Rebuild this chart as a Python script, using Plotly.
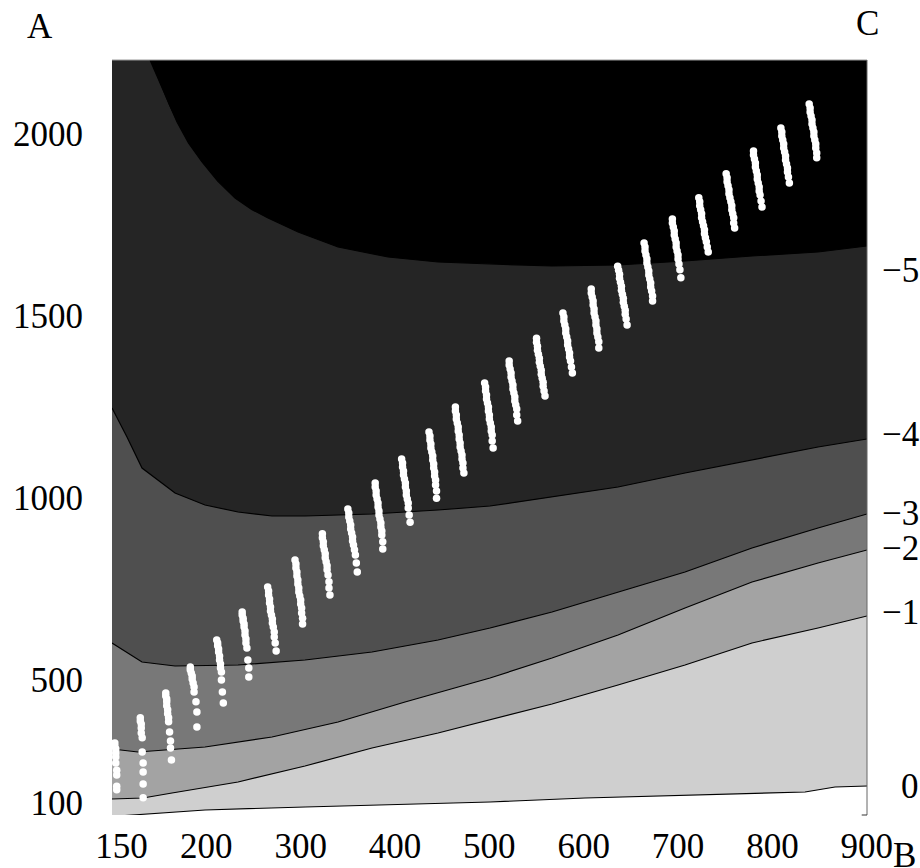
import plotly.graph_objects as go

# ---------------- axes ----------------
x_range = [100, 900.3]
y_range = [126.75, 2203]
x_tick_vals = [110, 200, 300, 400, 500, 600, 700, 800, 900]
x_tick_text = ["150", "200", "300", "400", "500", "600", "700", "800", "900"]
y_tick_vals = [160, 500, 1000, 1500, 2000]
y_tick_text = ["100", "500", "1000", "1500", "2000"]

# ---------------- contour lines ----------------
lev0_x = [113.8, 198.6, 304.6, 410.6, 500.7, 601.4, 707.4, 834.6, 866.4, 900.3]
lev0_y = [125.4, 140.5, 148.8, 157.0, 162.5, 173.5, 181.8, 190.0, 203.8, 206.5]

lev1_x = [100, 132.9, 163.6, 233.6, 304.6, 375.6, 445.6, 500.7, 566.4, 636.4, 707.4, 778.4, 848.4, 900.3]
lev1_y = [170.8, 173.5, 187.3, 217.5, 261.5, 311.0, 352.3, 388.0, 432.0, 484.3, 539.3, 599.8, 641.0, 674.0]

lev2_x = [100, 127.6, 198.6, 269.6, 339.6, 410.6, 500.7, 566.4, 636.4, 707.4, 778.4, 848.4, 900.3]
lev2_y = [308.3, 300.0, 313.8, 341.3, 382.5, 437.5, 503.5, 558.5, 621.8, 696.0, 767.5, 819.8, 855.5]

lev3_x = [100, 131.8, 166.8, 233.6, 304.6, 375.6, 445.6, 500.7, 566.4, 636.4, 707.4, 778.4, 848.4, 900.3]
lev3_y = [599.8, 547.5, 536.5, 539.3, 553.0, 575.0, 608.0, 641.0, 685.0, 740.0, 795.0, 861.0, 916.0, 954.5]

lev4_x = [100, 115.9, 131.8, 166.8, 198.6, 233.6, 269.6, 304.6, 375.6, 445.6, 500.7, 566.4, 636.4, 707.4, 778.4, 848.4, 900.3]
lev4_y = [1246, 1166.3, 1081, 1012.3, 979.3, 960, 949, 949, 954.5, 965.5, 976.5, 1001.3, 1028.8, 1067.3, 1103, 1138.8, 1160.8]

lev5_x = [140.3, 147.0, 153.0, 160.5, 168.9, 181.0, 195.4, 212.0, 230.4, 248.0, 265.4, 297.2, 339.6, 392.6, 445.6, 500.7, 566.4, 636.4, 707.4, 778.4, 848.4, 900.3]
lev5_y = [2203, 2163, 2126, 2078, 2032.5, 1975, 1922.5, 1870, 1823.5, 1792, 1768.5, 1730, 1688.8, 1661.3, 1647.5, 1642, 1636.5, 1639.3, 1650.3, 1664, 1675, 1691.5]

levels = ["0", "\u22121", "\u22122", "\u22123", "\u22124", "\u22125"]
level_label_y = [204, 685, 861, 957, 1172, 1625]
band_colors = ["#cfcfcf", "#a3a3a3", "#787878", "#4f4f4f", "#252525", "#000000"]

# ---------------- white point columns ----------------
dots_x = [
    [103, 103, 104, 104, 104, 104, 105, 105, 105, 105],
    [130, 130, 131, 131, 131, 132, 132, 133, 133, 133, 133],
    [157, 157, 158, 158, 158, 159, 159, 160, 160, 161, 162, 162, 163],
    [183, 183, 184, 185, 185, 186, 187, 187, 189, 190, 190],
    [211, 212, 212, 213, 213, 214, 214, 215, 215, 216, 216, 217, 218],
    [238, 238, 239, 239, 240, 240, 241, 241, 242, 242, 243, 244, 245, 245],
    [265, 266, 266, 267, 267, 268, 268, 269, 270, 270, 271, 272, 272, 273, 274],
    [294, 295, 295, 296, 296, 297, 297, 298, 298, 299, 300, 300, 301, 301, 302, 302],
    [323, 323, 324, 324, 325, 326, 326, 327, 328, 328, 329, 330, 330, 331],
    [350, 351, 351, 352, 353, 353, 354, 355, 355, 356, 357, 358, 359, 360],
    [379, 379, 380, 380, 381, 382, 382, 383, 383, 384, 385, 385, 386, 386, 387, 387],
    [407, 408, 408, 409, 409, 410, 411, 411, 412, 412, 413, 414, 414, 415, 416],
    [436, 437, 437, 438, 438, 439, 440, 440, 441, 441, 442, 442, 443, 443, 444, 444],
    [464, 464, 465, 465, 466, 467, 467, 468, 468, 469, 469, 470, 471, 471, 472, 472, 473],
    [495, 496, 496, 497, 497, 498, 499, 499, 500, 500, 501, 502, 502, 503, 503, 504],
    [521, 521, 522, 523, 523, 524, 525, 525, 526, 527, 527, 528, 529, 529, 530],
    [550, 550, 551, 551, 552, 553, 553, 554, 555, 555, 556, 557, 557, 558, 559],
    [578, 579, 579, 580, 581, 581, 582, 583, 583, 584, 585, 585, 586, 587, 588],
    [608, 608, 609, 610, 610, 611, 611, 612, 613, 613, 614, 614, 615, 616, 616],
    [636, 637, 638, 638, 639, 640, 640, 641, 642, 642, 643, 644, 644, 645, 646],
    [664, 665, 665, 666, 667, 667, 668, 669, 669, 670, 671, 671, 672, 673, 673],
    [694, 694, 695, 696, 696, 697, 698, 698, 699, 700, 700, 701, 702, 703],
    [722, 723, 723, 724, 725, 725, 726, 727, 728, 728, 729, 730, 731, 732],
    [751, 752, 752, 753, 754, 754, 755, 756, 757, 757, 758, 759, 759, 760],
    [780, 780, 781, 782, 782, 783, 784, 784, 785, 786, 786, 787, 788, 789],
    [809, 810, 810, 811, 812, 812, 813, 814, 814, 815, 816, 816, 817, 818],
    [839, 840, 840, 841, 842, 842, 843, 844, 844, 845, 846, 846, 847, 847],
]
dots_y = [
    [325, 316, 308, 297, 286, 270, 250, 237, 206, 196],
    [394, 385, 377, 366, 352, 339, 300, 270, 245, 212, 174],
    [462, 454, 446, 438, 427, 416, 405, 394, 383, 355, 330, 311, 278],
    [534, 526, 517, 509, 501, 490, 479, 465, 438, 410, 369],
    [608, 600, 592, 583, 575, 564, 553, 542, 531, 520, 498, 465, 435],
    [685, 677, 668, 660, 652, 644, 633, 622, 611, 600, 586, 553, 531, 506],
    [754, 743, 732, 721, 710, 699, 688, 677, 666, 655, 644, 630, 616, 600, 578],
    [828, 817, 806, 795, 784, 773, 762, 751, 740, 729, 718, 707, 696, 682, 668, 652],
    [900, 889, 878, 867, 856, 845, 834, 823, 812, 801, 787, 768, 751, 732],
    [968, 957, 946, 935, 924, 913, 902, 891, 880, 869, 856, 842, 820, 795],
    [1040, 1029, 1018, 1007, 996, 985, 974, 963, 952, 941, 930, 919, 908, 897, 878, 858],
    [1106, 1095, 1084, 1073, 1062, 1051, 1040, 1029, 1018, 1007, 996, 985, 971, 952, 932],
    [1180, 1169, 1158, 1147, 1136, 1125, 1114, 1103, 1092, 1081, 1070, 1059, 1048, 1034, 1018, 998],
    [1249, 1238, 1227, 1216, 1205, 1194, 1183, 1172, 1161, 1150, 1139, 1128, 1117, 1106, 1095, 1081, 1067],
    [1315, 1304, 1293, 1282, 1271, 1260, 1249, 1238, 1227, 1216, 1205, 1194, 1183, 1172, 1155, 1136],
    [1375, 1364, 1353, 1342, 1331, 1320, 1309, 1298, 1287, 1276, 1265, 1254, 1243, 1227, 1210],
    [1438, 1427, 1416, 1405, 1394, 1383, 1372, 1361, 1350, 1339, 1328, 1317, 1306, 1293, 1279],
    [1507, 1496, 1485, 1474, 1463, 1452, 1441, 1430, 1419, 1408, 1397, 1386, 1375, 1359, 1342],
    [1573, 1562, 1551, 1540, 1529, 1518, 1507, 1496, 1485, 1474, 1463, 1452, 1441, 1428, 1411],
    [1636, 1625, 1614, 1603, 1592, 1581, 1570, 1559, 1548, 1537, 1526, 1515, 1504, 1491, 1474],
    [1700, 1689, 1678, 1667, 1656, 1645, 1634, 1623, 1612, 1601, 1590, 1579, 1568, 1554, 1540],
    [1766, 1755, 1744, 1733, 1722, 1711, 1700, 1689, 1678, 1667, 1656, 1642, 1626, 1604],
    [1824, 1813, 1802, 1791, 1780, 1769, 1758, 1747, 1736, 1725, 1714, 1703, 1689, 1675],
    [1890, 1879, 1868, 1857, 1846, 1835, 1824, 1813, 1802, 1791, 1780, 1769, 1755, 1741],
    [1953, 1942, 1931, 1920, 1909, 1898, 1887, 1876, 1865, 1854, 1843, 1832, 1815, 1799],
    [2016, 2005, 1994, 1983, 1972, 1961, 1950, 1939, 1928, 1917, 1906, 1895, 1881, 1865],
    [2082, 2071, 2060, 2049, 2038, 2027, 2016, 2005, 1994, 1983, 1972, 1961, 1947, 1934],
]

FONT = "Liberation Serif, Times New Roman, serif"
FS = 35
fig = go.Figure()

x_lo, x_hi = 95, 906
y_lo, y_hi = 120, 2210

# filled bands, painted from the lightest (above level 0) up to black (above -5)
band_polys = [
    ([x_lo, x_lo] + lev0_x + [x_hi, x_hi], [y_hi, y_lo] + lev0_y + [lev0_y[-1], y_hi]),
    ([x_lo] + lev1_x + [x_hi, x_hi, x_lo], [lev1_y[0]] + lev1_y + [lev1_y[-1], y_hi, y_hi]),
    ([x_lo] + lev2_x + [x_hi, x_hi, x_lo], [lev2_y[0]] + lev2_y + [lev2_y[-1], y_hi, y_hi]),
    ([x_lo] + lev3_x + [x_hi, x_hi, x_lo], [lev3_y[0]] + lev3_y + [lev3_y[-1], y_hi, y_hi]),
    ([x_lo] + lev4_x + [x_hi, x_hi, x_lo], [lev4_y[0]] + lev4_y + [lev4_y[-1], y_hi, y_hi]),
    ([lev5_x[0]] + lev5_x + [x_hi, x_hi], [y_hi] + lev5_y + [lev5_y[-1], y_hi]),
]
for i, (px, py) in enumerate(band_polys):
    fig.add_trace(go.Scatter(x=px, y=py, mode="lines", fill="toself",
                             fillcolor=band_colors[i], line=dict(width=0),
                             hoverinfo="skip", showlegend=False))

for lx, ly in [(lev0_x, lev0_y), (lev1_x, lev1_y), (lev2_x, lev2_y),
               (lev3_x, lev3_y), (lev4_x, lev4_y), (lev5_x, lev5_y)]:
    fig.add_trace(go.Scatter(x=lx, y=ly, mode="lines",
                             line=dict(color="black", width=1.2),
                             hoverinfo="skip", showlegend=False))

all_x = [v for col in dots_x for v in col]
all_y = [v for col in dots_y for v in col]
fig.add_trace(go.Scatter(x=all_x, y=all_y, mode="markers",
                         marker=dict(color="white", size=7.5, line=dict(width=0)),
                         showlegend=False))

annotations = []
for txt, yv in zip(levels, level_label_y):
    annotations.append(dict(x=1.071, xref="paper", y=yv, yref="y", text=txt,
                            showarrow=False, xanchor="right", yanchor="middle",
                            font=dict(family=FONT, size=FS, color="black")))
annotations.append(dict(x=-0.0954, y=1.045, xref="paper", yref="paper", text="A",
                        showarrow=False, xanchor="center", yanchor="middle",
                        font=dict(family=FONT, size=FS, color="black")))
annotations.append(dict(x=1.0013, y=1.049, xref="paper", yref="paper", text="C",
                        showarrow=False, xanchor="center", yanchor="middle",
                        font=dict(family=FONT, size=FS, color="black")))
annotations.append(dict(x=1.05, y=-0.054, xref="paper", yref="paper", text="B",
                        showarrow=False, xanchor="center", yanchor="middle",
                        font=dict(family=FONT, size=FS, color="black")))

fig.update_layout(
    width=920, height=868,
    margin=dict(l=112, r=53, t=60, b=53),
    paper_bgcolor="white", plot_bgcolor="white",
    showlegend=False,
    annotations=annotations,
    shapes=[
        dict(type="line", xref="paper", yref="paper", x0=0, x1=1, y0=1, y1=1,
             line=dict(color="#999999", width=1)),
        dict(type="line", xref="paper", yref="paper", x0=1, x1=1, y0=0, y1=1,
             line=dict(color="#666666", width=1)),
        dict(type="line", xref="paper", yref="paper", x0=0.993, x1=1, y0=0, y1=0,
             line=dict(color="#333333", width=1)),
    ],
    xaxis=dict(range=x_range, tickmode="array", tickvals=x_tick_vals, ticktext=x_tick_text,
               showgrid=False, zeroline=False, showline=False, ticks="",
               automargin=False, ticklabelstandoff=7,
               tickfont=dict(family=FONT, size=FS, color="black")),
    yaxis=dict(range=y_range, tickmode="array", tickvals=y_tick_vals, ticktext=y_tick_text,
               showgrid=False, zeroline=False, showline=False, ticks="",
               automargin=False, ticklabelstandoff=28,
               tickfont=dict(family=FONT, size=FS, color="black")),
)

fig.write_html("out.html")
